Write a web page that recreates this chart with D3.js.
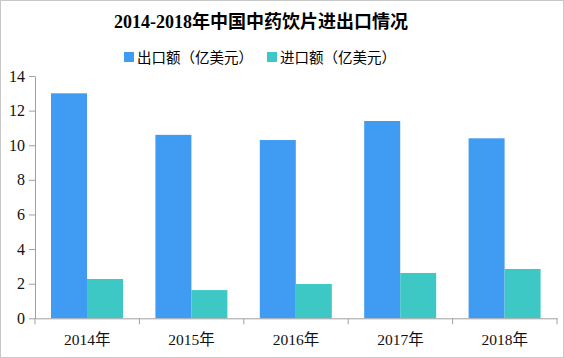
<!DOCTYPE html>
<html>
<head>
<meta charset="utf-8">
<script src="https://cdn.jsdelivr.net/npm/d3@7"></script>
<style>
  body { margin: 0; background: #fff; }
  svg { display: block; font-family: "Liberation Serif", "DejaVu Serif", "Noto Sans CJK SC", serif; }
</style>
</head>
<body>
<script>
// Chart data
var years = ["2014年", "2015年", "2016年", "2017年", "2018年"];
var seriesNames = ["出口额（亿美元）", "进口额（亿美元）"];
var exportValues = [13.0, 10.6, 10.3, 11.4, 10.4];
var importValues = [2.27, 1.63, 1.98, 2.62, 2.85];
var yTicks = [0, 2, 4, 6, 8, 10, 12, 14];
var colors = ["#3f9cf2", "#3dc8c6"];

var width = 564, height = 358;
var svg = d3.select("body").append("svg")
  .attr("width", width)
  .attr("height", height);

// outer frame
svg.append("rect")
  .attr("x", 0.5).attr("y", 0.5)
  .attr("width", width - 1).attr("height", height - 1)
  .attr("fill", "none").attr("stroke", "#c8c8c8");

var rows = years.map(function(y, i) {
  return { year: y, values: [exportValues[i], importValues[i]] };
});

var x0 = d3.scaleBand().domain(years).range([35, 557]).padding(0);
var x1 = d3.scaleBand().domain(seriesNames).range([16, 88]);
var y = d3.scaleLinear().domain([0, 14]).range([318.3, 76]);

// title
svg.append("text")
  .attr("x", 261).attr("y", 28)
  .attr("text-anchor", "middle")
  .attr("font-size", 18).attr("font-weight", "bold")
  .text("2014-2018年中国中药饮片进出口情况");

// legend
var legend = svg.append("g").attr("font-size", 14.5);
var legendX = [124, 267];
seriesNames.forEach(function(name, i) {
  legend.append("rect")
    .attr("x", legendX[i]).attr("y", 52)
    .attr("width", 10).attr("height", 10)
    .attr("fill", colors[i]);
  legend.append("text")
    .attr("x", legendX[i] + 13).attr("y", 63)
    .text(name);
});

// bars
var groups = svg.selectAll("g.year")
    .data(rows).enter()
  .append("g")
    .attr("class", "year")
    .attr("transform", function(d) { return "translate(" + x0(d.year) + ",0)"; });

groups.selectAll("rect")
    .data(function(d) { return d.values.map(function(v, i) { return { key: seriesNames[i], value: v, i: i }; }); })
    .enter()
  .append("rect")
    .attr("x", function(d) { return x1(d.key); })
    .attr("width", x1.bandwidth())
    .attr("y", function(d) { return y(d.value); })
    .attr("height", function(d) { return y(0) - y(d.value); })
    .attr("fill", function(d) { return colors[d.i]; });

// y axis
var yAxis = svg.append("g")
  .attr("transform", "translate(35,0)")
  .call(d3.axisLeft(y).tickValues(yTicks).tickSize(6).tickPadding(4).tickSizeOuter(0));

// x axis
var xAxis = svg.append("g")
  .attr("transform", "translate(0," + y(0) + ")")
  .call(d3.axisBottom(x0).tickSize(0).tickPadding(16).tickSizeOuter(0));

// x ticks at band boundaries
xAxis.selectAll("line.sep")
    .data(years.concat(["end"])).enter()
  .append("line")
    .attr("class", "sep")
    .attr("x1", function(d, i) { return 35 + i * x0.step(); })
    .attr("x2", function(d, i) { return 35 + i * x0.step(); })
    .attr("y1", 0).attr("y2", 6)
    .attr("stroke", "#a0a0a0");

[yAxis, xAxis].forEach(function(ax) {
  ax.selectAll("text")
    .attr("font-family", "'Liberation Serif', 'Noto Sans CJK SC', serif")
    .attr("fill", "#111");
  ax.selectAll(".domain, .tick line").attr("stroke", "#a0a0a0");
});
yAxis.selectAll("text").attr("font-size", 16);
xAxis.selectAll("text").attr("font-size", 15.5);
</script>
</body>
</html>
